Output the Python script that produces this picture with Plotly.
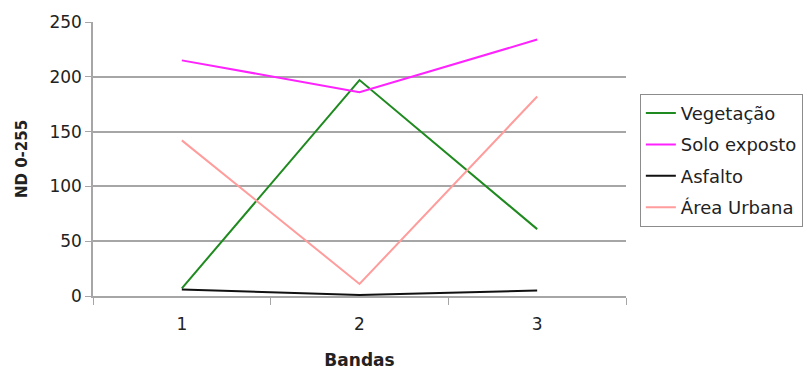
import plotly.graph_objects as go

# Bands on the x axis and digital numbers (0-255) per land-cover class
bandas = ["1", "2", "3"]
vegetacao = [7, 197, 61]
solo_exposto = [215, 186, 234]
asfalto = [6, 1, 5]
area_urbana = [142, 11, 182]

series = [
    ("Vegetação", vegetacao, "#1f8a1f"),
    ("Solo exposto", solo_exposto, "#ff22ff"),
    ("Asfalto", asfalto, "#111111"),
    ("Área Urbana", area_urbana, "#ff9c9c"),
]

FONT = "DejaVu Sans"
GRID = "#a6a6a6"
TEXT = "#222222"

fig = go.Figure()
for name, vals, color in series:
    fig.add_trace(go.Scatter(
        x=bandas, y=vals, name=name, mode="lines",
        line=dict(color=color, width=2),
        legendgroup=name,
    ))

fig.update_layout(
    width=809, height=372,
    margin=dict(l=93, r=183, t=22, b=76, autoexpand=False),
    paper_bgcolor="white", plot_bgcolor="white",
    font=dict(family=FONT, size=17, color=TEXT),
    showlegend=True,
    legend=dict(
        x=1.026, y=0.738, xanchor="left", yanchor="top",
        bordercolor="#8c8c8c", borderwidth=1,
        font=dict(family=FONT, size=18, color=TEXT),
        traceorder="grouped", tracegroupgap=5,
        itemwidth=30,
    ),
)

fig.update_xaxes(
    type="category", range=[-0.5, 2.5],
    tickson="boundaries", ticks="outside", ticklen=7, tickcolor=GRID,
    showgrid=False, showline=True, linecolor=GRID, linewidth=1.5,
    tickfont=dict(family=FONT, size=17, color=TEXT),
    ticklabelstandoff=12,
    title=dict(text="<b>Bandas</b>", font=dict(family=FONT, size=17, color=TEXT), standoff=21),
)
fig.update_yaxes(
    range=[0, 250], dtick=50, tick0=0,
    showgrid=True, gridcolor=GRID, gridwidth=1.5,
    zeroline=False,
    showline=True, linecolor=GRID, linewidth=1.5,
    ticks="outside", ticklen=6, tickcolor=GRID,
    tickfont=dict(family=FONT, size=17, color=TEXT),
    title=dict(text="<b>ND 0-255</b>", font=dict(family=FONT, size=15, color=TEXT), standoff=18),
)

fig.write_html("out.html")
